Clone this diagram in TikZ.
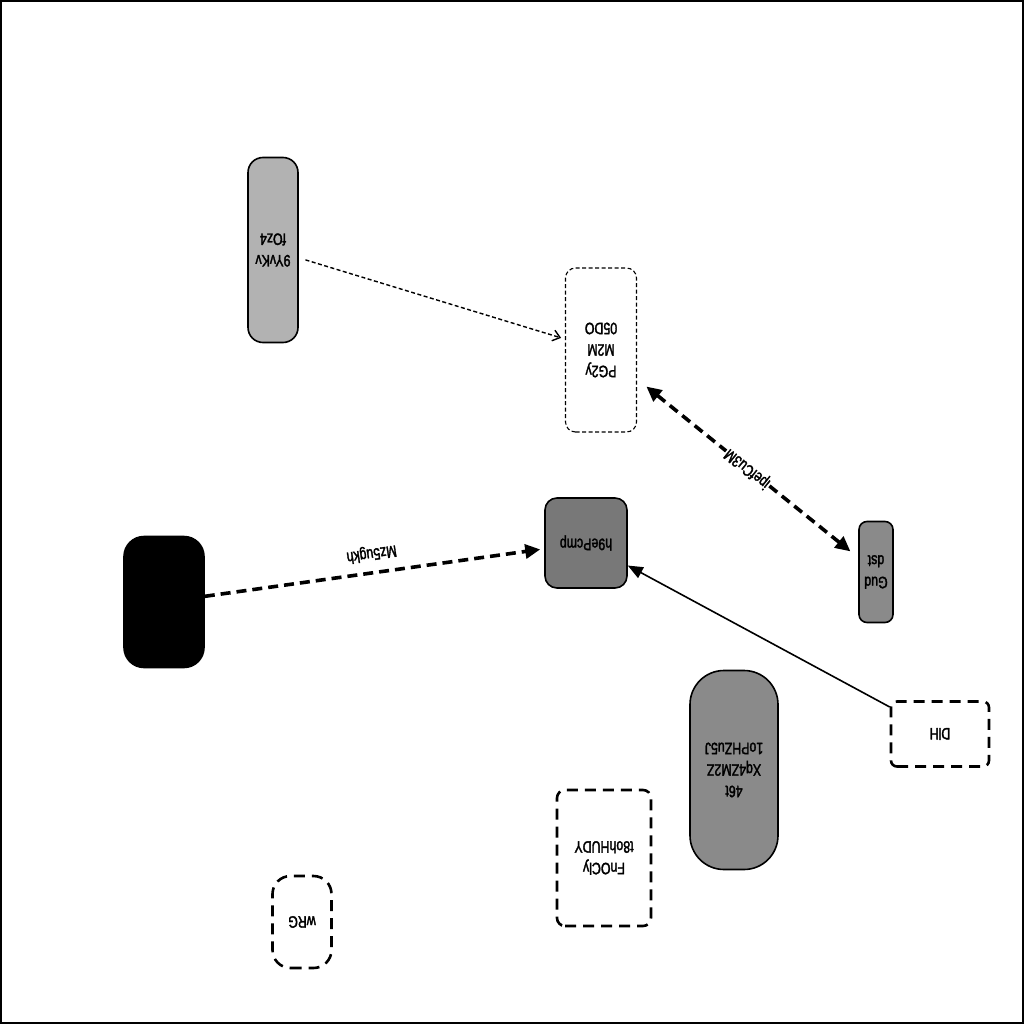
\documentclass[tikz,border=0pt]{standalone}
\usepackage{fontspec}
\setmainfont{Liberation Sans}
\newfontfamily\narrowfont{Liberation Sans}[FakeStretch=0.75,FakeBold=2]
\usepackage{tikz}
\usetikzlibrary{arrows.meta}

\definecolor{lightgr}{RGB}{178,178,178}
\definecolor{midgr}{RGB}{138,138,138}
\definecolor{darkgr}{RGB}{120,120,120}

\begin{document}
\begin{tikzpicture}[x=1pt,y=-1pt,
 font=\narrowfont\fontsize{16.5}{21.5}\selectfont,
 b/.style={draw,rotate=180,align=center,inner sep=2pt,line width=1.6pt},
 dbox/.style={b,line width=2.6pt,dash pattern=on 11pt off 7pt},
 thinbox/.style={b,line width=1.1pt,dash pattern=on 4pt off 2.5pt},
 tk/.style={line width=3.6pt,dash pattern=on 10pt off 6pt},
 bigtip/.tip={Triangle[length=15pt,width=14pt]},
 ar/.style={-{Triangle[length=15pt,width=12pt]},line width=1.6pt},
 lab/.style={inner sep=1pt}]
\useasboundingbox (0,0) rectangle (1024,1024);
\draw[line width=2pt] (1,1) rectangle (1023,1023);
\node[b,fill=lightgr,rounded corners=15pt,minimum width=50pt,minimum height=185pt] (yvk) at (273,250) {9YvKv\\fOz4};
\node[thinbox,rounded corners=10pt,minimum width=71pt,minimum height=164pt] (pgy) at (601,350) {PG2y\\M2M\\05DO};
\node[b,fill=darkgr,rounded corners=12pt,minimum width=82pt,minimum height=90pt] (hep) at (586,543) {h9ePcmp};
\node[b,fill=midgr,rounded corners=8pt,minimum width=34pt,minimum height=101pt] (gud) at (876,572) {Gud\\dst};
\node[b,fill=black,rounded corners=20pt,minimum width=80pt,minimum height=131pt] (blk) at (164,602) {};
\node[b,fill=midgr,rounded corners=34pt,minimum width=88pt,minimum height=199pt] (xq) at (734,770) {46t\\Xq4ZM2Z\\1oPHZu5J};
\node[dbox,rounded corners=6pt,minimum width=98pt,minimum height=65pt] (dlh) at (940,734) {DlH};
\node[dbox,rounded corners=8pt,minimum width=94pt,minimum height=136pt] (fno) at (604,858) {FnOCly\\t8ohHUDY};
\node[dbox,rounded corners=18pt,minimum width=59pt,minimum height=92pt] (wrg) at (302,922) {wRG};
% connectors
\draw[line width=1.4pt,dash pattern=on 4pt off 2.5pt,-{Straight Barb[length=7pt,width=11pt]},shorten <=7pt,shorten >=4pt] (yvk) -- (pgy);
\draw[tk,bigtip-bigtip,shorten <=12pt,shorten >=10pt] (pgy) -- node[lab,fill=white,rotate=141.3] {ipefCu3M} (gud);
\draw[tk,-bigtip,shorten >=4pt] (blk) -- node[lab,anchor=north,rotate=188.7,inner sep=10pt] {Mz5ugkh} (hep);
\draw[ar] (dlh) -- (hep);
\end{tikzpicture}
\end{document}
